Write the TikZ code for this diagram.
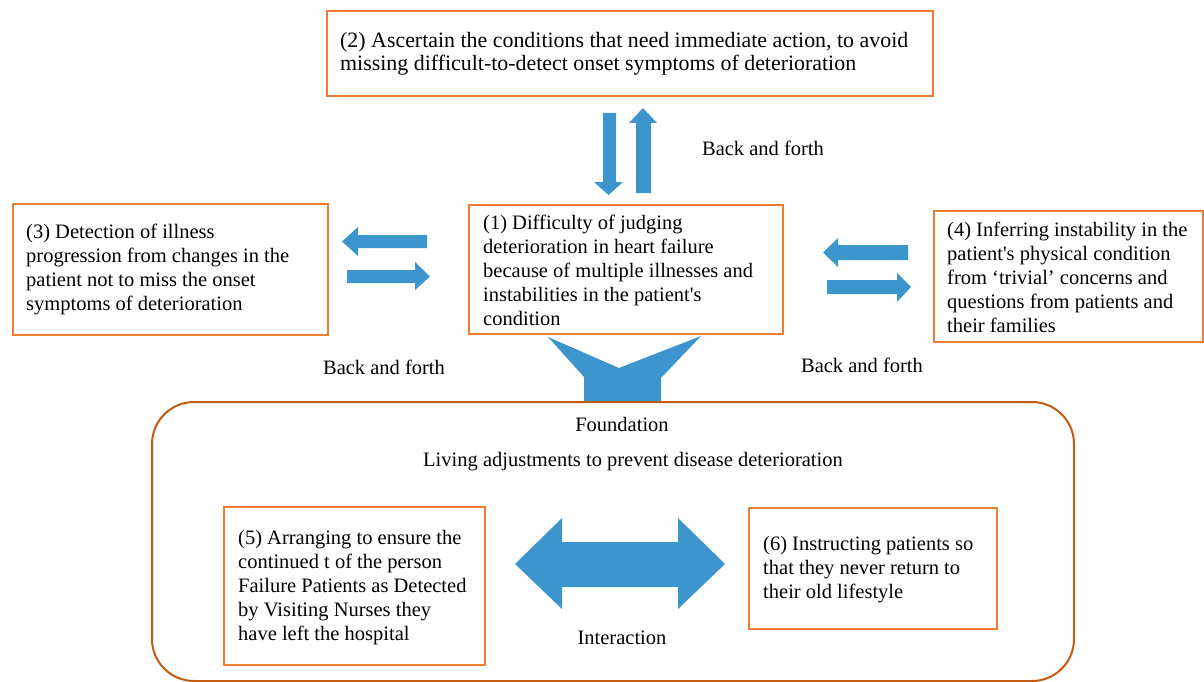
\documentclass[tikz,border=0pt]{standalone}
\usepackage{fontspec}
\setmainfont{Liberation Serif}
\newfontfamily\nomapserif{Liberation Serif}
\definecolor{boxorange}{RGB}{237,125,49}
\definecolor{framebrown}{RGB}{197,90,17}
\definecolor{arrowblue}{RGB}{61,149,206}
\newcommand{\fs}{\fontsize{20.5}{24}\selectfont}
\newcommand{\fsb}{\fontsize{21.9}{23.5}\selectfont}
\newcommand{\sq}{{\nomapserif'}}
\tikzset{
  obox/.style={draw=boxorange, line width=2.2pt, inner sep=0pt, anchor=north west},
  btxt/.style={align=left, anchor=west, inner sep=0pt, font=\fs},
  lbl/.style={inner sep=0pt, font=\fs},
  blk/.style={fill=arrowblue, draw=none}
}
\begin{document}
\begin{tikzpicture}[x=1pt,y=-1pt]
\useasboundingbox (0,0) rectangle (1204,682);
% frame
\draw[framebrown, line width=2pt, rounded corners=42pt] (152,402) rectangle (1074,681);
% boxes
\node[obox, minimum width=606pt, minimum height=85pt] (b2) at (326,10) {};
\node[obox, minimum width=314pt, minimum height=129pt] (b1) at (468,204) {};
\node[obox, minimum width=315pt, minimum height=131pt] (b3) at (12,203) {};
\node[obox, minimum width=269pt, minimum height=131pt] (b4) at (933,210) {};
\node[obox, minimum width=261pt, minimum height=158pt] (b5) at (223,506) {};
\node[obox, minimum width=248pt, minimum height=121pt] (b6) at (748,507) {};
% texts
\node[btxt, font=\fsb] (t2) at ([xshift=14pt]b2.west) {(2) Ascertain the conditions that need immediate action, to avoid\\missing difficult-to-detect onset symptoms of deterioration};
\node[btxt] (t1) at ([xshift=15pt,yshift=-1pt]b1.west) {(1) Difficulty of judging\\deterioration in heart failure\\because of multiple illnesses and\\instabilities in the patient\sq s\\condition};
\node[btxt] (t3) at ([xshift=14pt]b3.west) {(3) Detection of illness\\progression from changes in the\\patient not to miss the onset\\symptoms of deterioration};
\node[btxt] (t4) at ([xshift=14pt,yshift=-1pt]b4.west) {(4) Inferring instability in the\\patient\sq s physical condition\\from `trivial' concerns and\\questions from patients and\\their families};
\node[btxt] (t5) at ([xshift=15pt,yshift=-1pt]b5.west) {(5) Arranging to ensure the\\continued t of the person\\Failure Patients as Detected\\by Visiting Nurses they\\have left the hospital};
\node[btxt] (t6) at ([xshift=15pt,yshift=-1pt]b6.west) {(6) Instructing patients so\\that they never return to\\their old lifestyle};
% labels
\node[lbl] (l1) at (763,148) {Back and forth};
\node[lbl] (l2) at (384,367) {Back and forth};
\node[lbl] (l3) at (862,365) {Back and forth};
\node[lbl] (l4) at (622,424) {Foundation};
\node[lbl] (l5) at (633,462) {Living adjustments to prevent disease deterioration};
\node[lbl] (l6) at (622,638) {Interaction};
% vertical arrows
\fill[blk] (603,113) -- (616,113) -- (616,182) -- (623,182) -- (608.5,195) -- (594,182) -- (603,182) -- cycle;
\fill[blk] (636,193) -- (651,193) -- (651,123) -- (657,123) -- (643,108) -- (629,123) -- (636,123) -- cycle;
% left pair
\fill[blk] (427,235) -- (358,235) -- (358,227) -- (342,241.5) -- (358,256) -- (358,248) -- (427,248) -- cycle;
\fill[blk] (347,270) -- (415,270) -- (415,262) -- (430,276.5) -- (415,290) -- (415,283) -- (347,283) -- cycle;
% right pair
\fill[blk] (908,245) -- (838,245) -- (838,238) -- (823,252.5) -- (838,267) -- (838,260) -- (908,260) -- cycle;
\fill[blk] (827,280) -- (897,280) -- (897,273) -- (911,287) -- (897,302) -- (897,294) -- (827,294) -- cycle;
% funnel arrow
\fill[blk] (548,337) -- (619,368) -- (701,336) -- (661,378) -- (661,401) -- (584,401) -- (584,377) -- cycle;
% double arrow
\fill[blk] (515,564) -- (562,518) -- (562,542) -- (678,542) -- (678,518) -- (725,564) -- (678,609) -- (678,587) -- (562,587) -- (562,609) -- cycle;
\end{tikzpicture}
\end{document}
